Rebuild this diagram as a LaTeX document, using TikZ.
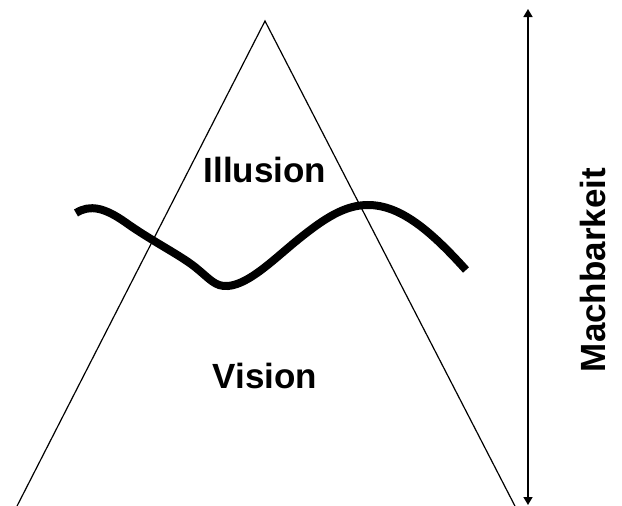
\documentclass[tikz,border=0pt]{standalone}
\usepackage{fontspec}
\setmainfont{Liberation Sans}
\usetikzlibrary{arrows.meta}
\tikzset{
  label text/.style={font=\fontsize{35}{40}\selectfont\bfseries, inner sep=0pt, anchor=base},
  leg/.style={line width=1.2pt},
  wave/.style={line width=8pt},
  scale arrow/.style={line width=1.5pt, {Triangle[width=9pt,length=8pt]}-{Triangle[width=9pt,length=8pt]}}
}
\begin{document}
\begin{tikzpicture}[x=1pt, y=-1pt]
\useasboundingbox (0,0) rectangle (622,506);
\coordinate (apex) at (265,21);
\coordinate (leftfoot) at (15,510);
\coordinate (rightfoot) at (517,510);
\coordinate (top) at (528,9);
\coordinate (bottom) at (528,505);
\begin{scope}
\clip (0,0) rectangle (622,506);
\draw[leg] (leftfoot) -- (apex) -- (rightfoot);
\end{scope}
% the wave
\draw[wave] (76,213) .. controls (90,204) and (105,208) .. (125,222)
  .. controls (150,240) and (180,255) .. (195,267)
  .. controls (210,279) and (215,287) .. (228,286)
  .. controls (250,284) and (275,258) .. (300,238)
  .. controls (325,218) and (345,205) .. (368,205)
  .. controls (400,205) and (430,230) .. (466,270);
\draw[scale arrow] (top) -- (bottom);
\node[label text] (illusion) at (265,182) {Illusion};
\node[label text] (vision) at (265,388) {Vision};
\node[label text, rotate=90] (machbarkeit) at (605,270) {Machbarkeit};
\end{tikzpicture}
\end{document}
